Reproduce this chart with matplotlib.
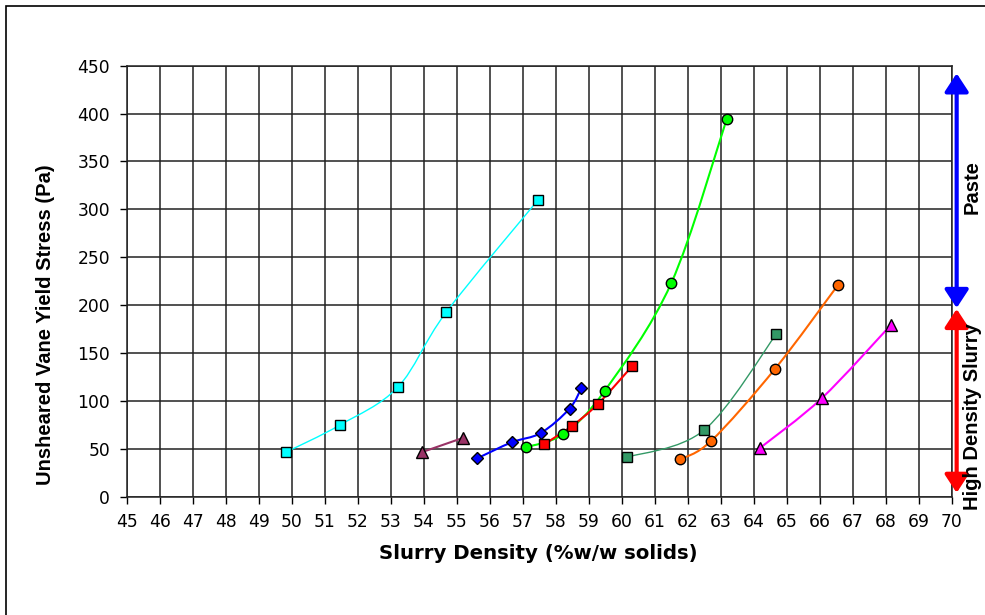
import numpy as np
import matplotlib.pyplot as plt
from matplotlib.path import Path
from matplotlib.patches import PathPatch, Rectangle

plt.rcParams['font.family'] = ['DejaVu Sans']

# Данные: плотность (%w/w) и предел текучести (Pa)
cyan_x = [49.83, 51.46, 53.22, 54.68, 57.47]
cyan_y = [46.5, 74.8, 114.5, 192.5, 310.0]

brown_x = [53.95, 55.2]
brown_y = [46.5, 61.5]

blue_x = [55.62, 56.67, 57.55, 58.42, 58.78]
blue_y = [40.0, 56.8, 66.5, 91.9, 113.5]

lime_x = [57.09, 58.23, 59.48, 61.5, 63.18]
lime_y = [51.6, 65.4, 110.3, 222.8, 394.0]

red_x = [57.65, 58.49, 59.28, 60.32]
red_y = [54.7, 73.8, 96.8, 136.4]

sea_x = [60.15, 62.5, 64.68]
sea_y = [41.1, 69.6, 169.5]

orange_x = [61.77, 62.72, 64.65, 66.55]
orange_y = [39.0, 58.5, 133.6, 220.8]

magenta_x = [64.19, 66.06, 68.15]
magenta_y = [50.8, 102.7, 179.0]

# (x, y, цвет линии, маркер, размер маркера, толщина линии)
series = [
    (cyan_x, cyan_y, '#00FFFF', 's', 7.5, 1.0),
    (brown_x, brown_y, '#993366', '^', 8.5, 1.5),
    (blue_x, blue_y, '#0000FF', 'D', 6, 1.5),
    (lime_x, lime_y, '#00FF00', 'o', 7.5, 1.5),
    (red_x, red_y, '#FF0000', 's', 7.5, 1.5),
    (sea_x, sea_y, '#339966', 's', 7.5, 1.0),
    (orange_x, orange_y, '#FF6600', 'o', 7.5, 1.5),
    (magenta_x, magenta_y, '#FF00FF', '^', 8.5, 1.5),
]


# Сглаженная линия как в Excel (Catmull-Rom через кривые Безье)
def smooth_path(xs, ys):
    p = np.column_stack([xs, ys]).astype(float)
    n = len(p)
    verts = [p[0]]
    codes = [Path.MOVETO]
    for i in range(n - 1):
        p0 = p[i - 1] if i > 0 else p[i]
        p3 = p[i + 2] if i + 2 < n else p[i + 1]
        c1 = p[i] + (p[i + 1] - p0) / 6.0
        c2 = p[i + 1] - (p3 - p[i]) / 6.0
        verts += [c1, c2, p[i + 1]]
        codes += [Path.CURVE4] * 3
    return Path(verts, codes)


fig = plt.figure(figsize=(9.85, 6.15), dpi=100)
ax = fig.add_axes([0.1286, 0.1924, 0.8376, 0.7008])

for xs, ys, col, mk, ms, lw in series:
    ax.add_patch(PathPatch(smooth_path(xs, ys), fill=False, edgecolor=col,
                           lw=lw, zorder=3))
    ax.plot(xs, ys, linestyle='none', marker=mk, markersize=ms,
            markerfacecolor=col, markeredgecolor='black', markeredgewidth=1.0,
            zorder=4)

ax.set_xlim(45, 70)
ax.set_ylim(0, 450)
ax.set_xticks(np.arange(45, 71, 1))
ax.set_yticks(np.arange(0, 451, 50))
ax.grid(True, color='#222222', linewidth=1.1)
ax.set_axisbelow(True)
ax.tick_params(direction='out', length=5, width=1, labelsize=12.3, pad=7)
for s in ax.spines.values():
    s.set_color('#222222')
    s.set_linewidth(1.1)

fig.text(0.547, 0.1, 'Slurry Density (%w/w solids)', ha='center', va='center',
         fontsize=14.2, fontweight='bold')
fig.text(0.046, 0.472, 'Unsheared Vane Yield Stress (Pa)', ha='center',
         va='center', rotation=90, fontsize=14.5, fontweight='bold',
         fontfamily='Liberation Sans')

# Стрелки диапазонов
ax.annotate('', xy=(70.15, 442), xytext=(70.15, 197),
            arrowprops=dict(arrowstyle='<|-|>,head_length=1.1,head_width=0.72',
                            color='#0000FF', lw=3, shrinkA=0, shrinkB=0),
            annotation_clip=False)
ax.annotate('', xy=(70.15, 196), xytext=(70.15, 4),
            arrowprops=dict(arrowstyle='<|-|>,head_length=1.1,head_width=0.72',
                            color='#FF0000', lw=3, shrinkA=0, shrinkB=0),
            annotation_clip=False)
fig.text(971.7 / 985, 1 - 186.7 / 615, 'Paste', rotation=90, ha='center',
         va='center', fontsize=14.5, fontweight='bold',
         fontfamily='Liberation Sans')
fig.text(972 / 985, 1 - 416.7 / 615, 'High Density Slurry', rotation=90,
         ha='center', va='center', fontsize=14.5, fontweight='bold',
         fontfamily='Liberation Sans')

# Рамка вокруг диаграммы
fig.patches.append(Rectangle((6 / 985, -0.1), 1.2, 1 - 6 / 615 + 0.1,
                             transform=fig.transFigure, fill=False,
                             edgecolor='black', lw=1.2))

fig.savefig('out.png', dpi=100)
